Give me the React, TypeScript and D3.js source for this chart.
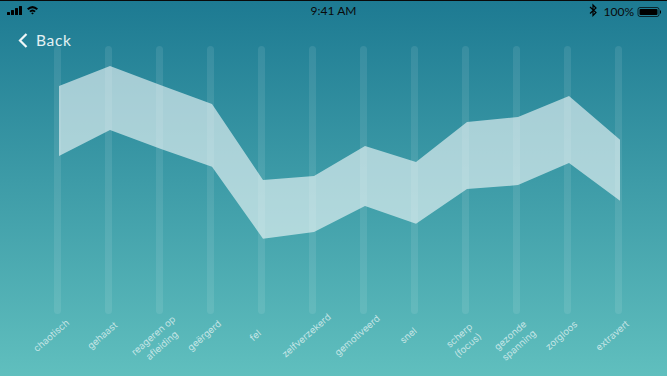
import React from "react";
import * as d3 from "d3";

const categories: string[][] = [["chaotisch"],["gehaast"],["reageren op","afleiding"],["geërgerd"],["fel"],["zelfverzekerd"],["gemotiveerd"],["snel"],["scherp","(focus)"],["gezonde","spanning"],["zorgloos"],["extravert"]];
const upper = [85.1,92.5,85.4,78.4,50,51.5,62.7,56.7,71.6,73.5,81.3,65.0];
const lower = [59.0,68.7,61.6,54.9,28.1,30.6,40.3,33.7,46.6,48.1,56.3,42.3];

const W = 667, H = 376;
const x = d3.scalePoint<number>().domain(d3.range(categories.length)).range([57.5, 618.5]);
const xArea = d3.scalePoint<number>().domain(d3.range(categories.length)).range([59, 620]);
const y = d3.scaleLinear().domain([0, 100]).range([314, 46]);
const area = d3.area<number>().x((i) => xArea(i)!).y0((i) => y(lower[i])).y1((i) => y(upper[i]));
const font = "Lato, 'Open Sans', sans-serif";

export default function App() {
  return (
    <svg width={W} height={H} viewBox={`0 0 ${W} ${H}`} style={{ position: "fixed", left: 0, top: 0, display: "block" }}>
      <defs>
        <linearGradient id="bg" x1="0" y1="0" x2="0" y2="1">
          <stop offset="0" stopColor="#1d7a92" />
          <stop offset="1" stopColor="#60bfbe" />
        </linearGradient>
      </defs>
      <rect width={W} height={H} fill="url(#bg)" />
      <rect width={W} height={1} fill="#0a0a0a" />
      {/* status bar */}
      <g fill="#000">
        {[0, 1, 2, 3].map((i) => (
          <rect key={i} x={7 + i * 4} y={12 - i * 2} width={3} height={3 + i * 2} rx={0.5} />
        ))}
        <path d="M27 8.5 Q32.5 3.5 38 8.5 L36.6 10 Q32.5 6.5 28.4 10 Z" />
        <path d="M29.3 11 Q32.5 8 35.7 11 L34.5 12.3 Q32.5 10.6 30.5 12.3 Z" />
        <path d="M31.2 13.2 Q32.5 12 33.8 13.2 L32.5 14.6 Z" />
        <text x={333.5} y={15} textAnchor="middle" fontSize={12} fontFamily={font} fill="#0a0a0a">9:41 AM</text>
        <text x={603.5} y={15.5} fontSize={12} fontFamily={font} fill="#0a0a0a">100%</text>
        <path d="M590 7 L596 12.5 L593 15.5 V5 L596 8 L590 13.5" fill="none" stroke="#000" strokeWidth={1.2} />
        <rect x={638} y={7.5} width={21} height={9} rx={2} fill="none" stroke="#000" strokeWidth={0.7} />
        <rect x={639.5} y={9} width={18} height={6} rx={1} />
        <rect x={660} y={10.5} width={1} height={3} />
      </g>
      {/* back */}
      <path d="M26.5 34 L20 40.5 L26.5 47" fill="none" stroke="#f0f7f8" strokeWidth={2.2} />
      <text x={36} y={46} fontSize={15.5} fontFamily={font} letterSpacing={0.7} fill="#e4f1f3">Back</text>
      {/* bars */}
      {categories.map((_, i) => (
        <rect key={i} x={x(i)! - 3.5} y={y(100)} width={7} height={y(0) - y(100)} rx={3.5} fill="#fff" fillOpacity={0.09} />
      ))}
      <path d={area(d3.range(categories.length))!} fill="#fff" fillOpacity={0.58} />
      {/* labels */}
      {categories.map((lines, i) => (
        <text key={i} transform={`translate(${x(i)! - 4},${338}) rotate(-41)`} textAnchor="middle" fontSize={9.5} fontFamily="Inter, 'Open Sans', sans-serif" fill="#fff" fillOpacity={0.65}>
          {lines.map((l, j) => (
            <tspan key={j} x={0} dy={j === 0 ? 0 : 13}>{l}</tspan>
          ))}
        </text>
      ))}
    </svg>
  );
}
